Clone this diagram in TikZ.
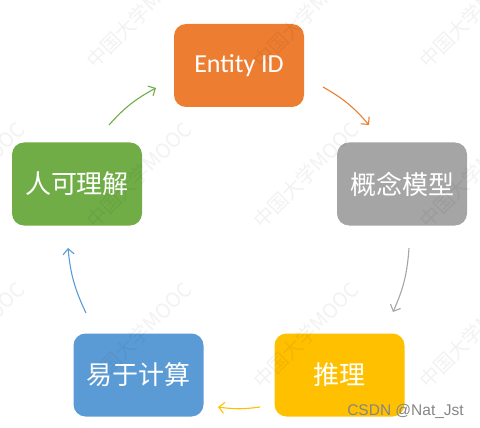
\documentclass[tikz,border=0pt]{standalone}
\usepackage{fontspec}
\setmainfont{Carlito}
\newfontfamily\cjk{Noto Sans CJK SC}
\newfontfamily\arialf{Liberation Sans}
\usetikzlibrary{arrows.meta}
\definecolor{cgreen}{HTML}{70AD47}
\definecolor{corange}{HTML}{ED7D31}
\definecolor{cgray}{HTML}{A5A5A5}
\definecolor{cyellow}{HTML}{FFC000}
\definecolor{cblue}{HTML}{5B9BD5}
\begin{document}
\begin{tikzpicture}[x=1pt,y=-1pt,
  box/.style={rounded corners=12pt, minimum width=130pt, minimum height=83pt,
    text=white, inner sep=0pt, draw=none},
  cjktext/.style={font=\cjk\fontsize{26}{30}\selectfont},
  entext/.style={font=\fontsize{26}{30}\selectfont},
  arr/.style={line width=1.1pt, -{Straight Barb[length=5.5pt,width=11pt,line width=1.1pt]}},
  wm/.style={font=\cjk\fontsize{20}{24}\selectfont, text=black, text opacity=0.05, rotate=45, inner sep=0pt}
]
\useasboundingbox (0,0) rectangle (480,428);

\node[box, fill=corange, entext] (eid) at (239,65.5) {Entity ID};
\node[box, fill=cgray, cjktext] (gn) at (402,184) {概念模型};
\node[box, fill=cyellow, cjktext] (tl) at (339.5,375) {推理};
\node[box, fill=cblue, cjktext] (js) at (138.5,375) {易于计算};
\node[box, fill=cgreen, cjktext] (lj) at (77,184) {人可理解};

\coordinate (g1) at (109,125);
\coordinate (g2) at (156,88);
\coordinate (o1) at (323,87);
\coordinate (o2) at (369,125);
\coordinate (r1) at (409,248);
\coordinate (r2) at (393,312);
\coordinate (y1) at (260,407);
\coordinate (y2) at (218,407);
\coordinate (b1) at (86,313);
\coordinate (b2) at (68,248);

\draw[arr, draw=cgreen] (g1) to[bend left=10] (g2);
\draw[arr, draw=corange] (o1) to[bend left=10] (o2);
\draw[arr, draw=cgray] (r1) to[bend left=10] (r2);
\draw[arr, draw=cyellow] (y1) to[bend left=8] (y2);
\draw[arr, draw=cblue] (b1) to[bend left=10] (b2);

\foreach \x [count=\i] in {-28,139,306,472}{
  \foreach \y [count=\j] in {15,175,335}{
    \node[wm] (wm\i\j) at (\x,\y) {中国大学MOOC};
  }
}

\node[font=\arialf\fontsize{15.5}{18}\selectfont, text=black!48, anchor=base east, inner sep=0pt] (csdn) at (464,415) {CSDN @Nat\_Jst};
\end{tikzpicture}
\end{document}
